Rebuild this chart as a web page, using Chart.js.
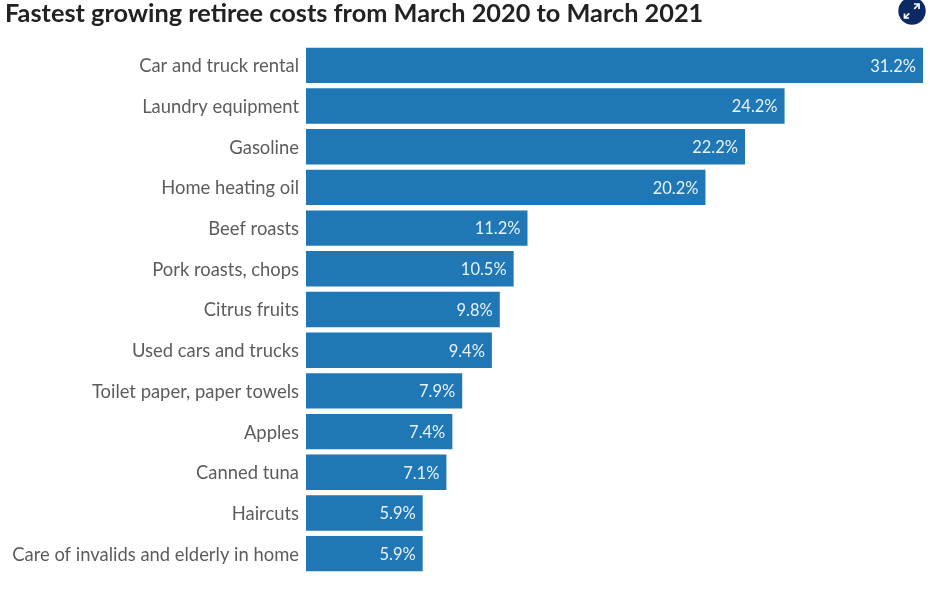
<!DOCTYPE html>
<html lang="en">
<head>
    <meta charset="UTF-8">
    <title>Fastest growing retiree costs</title>
    <script src="https://cdn.jsdelivr.net/npm/chart.js"></script>
    <style>
        html, body { margin: 0; padding: 0; background: #fff; }
        #wrap { position: relative; width: 936px; height: 602px; }
        #expand { position: absolute; left: 898px; top: 0; width: 28px; height: 26px; }
    </style>
</head>
<body>
    <div id="wrap">
        <canvas id="costChart" width="936" height="602"></canvas>
        <!-- expand button top right -->
        <svg id="expand" viewBox="0 0 28 26">
            <circle cx="14" cy="11" r="13.7" fill="#0b2a63"/>
            <g stroke="#fff" stroke-width="1.7" fill="none">
                <path d="M16 4 H21 V9"/>
                <path d="M21 4 L16.2 8.8"/>
                <path d="M6.5 13.5 V18 H11"/>
                <path d="M6.5 18 L11.2 13.3"/>
            </g>
        </svg>
    </div>

    <script>
        const titleText = 'Fastest growing retiree costs from March 2020 to March 2021';
        const categories = ['Car and truck rental', 'Laundry equipment', 'Gasoline', 'Home heating oil',
            'Beef roasts', 'Pork roasts, chops', 'Citrus fruits', 'Used cars and trucks',
            'Toilet paper, paper towels', 'Apples', 'Canned tuna', 'Haircuts',
            'Care of invalids and elderly in home'];
        const values = [31.2, 24.2, 22.2, 20.2, 11.2, 10.5, 9.8, 9.4, 7.9, 7.4, 7.1, 5.9, 5.9];

        const fontName = 'Lato, "Open Sans", sans-serif';

        // Value labels inside the end of each bar
        const barLabels = {
            id: 'barLabels',
            afterDatasetsDraw(chart) {
                const ctx = chart.ctx;
                ctx.save();
                ctx.font = '16.5px ' + fontName;
                ctx.fillStyle = '#e9f2f8';
                ctx.textAlign = 'right';
                ctx.textBaseline = 'middle';
                chart.getDatasetMeta(0).data.forEach((bar, i) => {
                    ctx.fillText(values[i].toFixed(1) + '%', bar.x - 7, bar.y + 1);
                });
                ctx.restore();
            }
        };

        new Chart(document.getElementById('costChart').getContext('2d'), {
            type: 'bar',
            data: {
                labels: categories,
                datasets: [{
                    data: values,
                    backgroundColor: '#1f77b6',
                    categoryPercentage: 1,
                    barPercentage: 0.87
                }]
            },
            options: {
                indexAxis: 'y',
                responsive: false,
                animation: false,
                layout: { padding: { left: 5, right: 13, top: 1, bottom: 28 } },
                plugins: {
                    legend: { display: false },
                    tooltip: { enabled: false },
                    title: {
                        display: true,
                        text: titleText,
                        align: 'start',
                        color: '#222222',
                        font: { family: fontName, size: 25.3, weight: 'bold', lineHeight: 1 },
                        padding: { top: 0, bottom: 18.7 }
                    }
                },
                scales: {
                    x: { display: false, min: 0, max: 31.2 },
                    y: {
                        grid: { display: false, drawTicks: false },
                        border: { display: false },
                        ticks: {
                            color: '#5c5c5c',
                            padding: 7,
                            labelOffset: 1,
                            autoSkip: false,
                            font: { family: fontName, size: 18.4 }
                        },
                        afterFit(scale) { scale.width = 301; }
                    }
                }
            },
            plugins: [barLabels]
        });
    </script>
</body>
</html>
